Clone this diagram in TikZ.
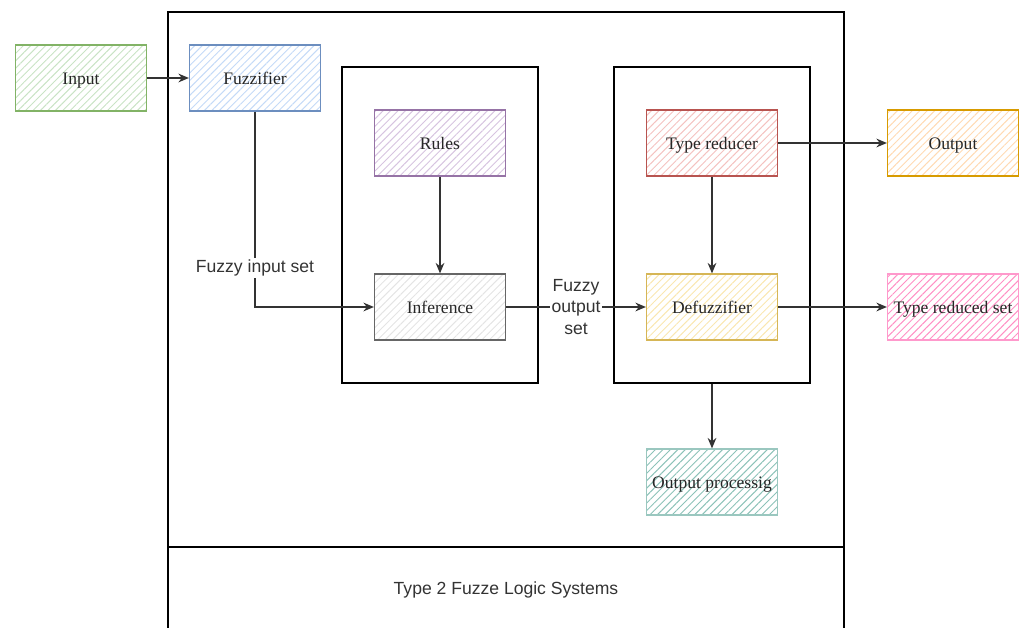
\documentclass[tikz,border=0pt]{standalone}
\usepackage{fontspec}
\setmainfont{Liberation Serif}
\setsansfont{Liberation Sans}
\usetikzlibrary{patterns.meta, arrows.meta}

\definecolor{ingreen}{HTML}{82B366}
\definecolor{ingreenf}{HTML}{C9E3C5}
\definecolor{fzblue}{HTML}{6C8EBF}
\definecolor{fzbluef}{HTML}{C4DAF7}
\definecolor{rlpurple}{HTML}{9673A6}
\definecolor{rlpurplef}{HTML}{D7C4E0}
\definecolor{infgray}{HTML}{666666}
\definecolor{infgrayf}{HTML}{E4E4E4}
\definecolor{trred}{HTML}{B85450}
\definecolor{trredf}{HTML}{F4C2C0}
\definecolor{dfyellow}{HTML}{D6B656}
\definecolor{dfyellowf}{HTML}{F9E7B0}
\definecolor{outorange}{HTML}{D79B00}
\definecolor{outorangef}{HTML}{FFDAB3}
\definecolor{setpink}{HTML}{FF99CC}
\definecolor{setpinkf}{HTML}{FF8FC4}
\definecolor{optteal}{HTML}{9AC7BF}
\definecolor{opttealf}{HTML}{8CC2B8}

\begin{document}
\begin{tikzpicture}[x=0.02cm, y=-0.02cm,
    block/.style 2 args={draw=#1, line width=0.7pt, font=\fontsize{10}{12}\selectfont,
        text=black!85, minimum width=2.62cm, minimum height=1.32cm, inner sep=0pt,
        text height=7pt, text depth=0pt,
        pattern={Lines[angle=45, distance=3pt, line width=0.55pt]}, pattern color=#2},
    group/.style={draw, line width=0.8pt, minimum width=3.92cm, minimum height=6.32cm},
    lbl/.style={fill=white, font=\sffamily\fontsize{10}{12}\selectfont, text=black!80,
        inner sep=1pt, align=center},
    flow/.style={-{Stealth[length=6pt, width=5pt, inset=2pt]}, line width=0.7pt, black!80}]
    \useasboundingbox (0,0) rectangle (1022,628);

    % system frame with its title bar
    \draw[line width=0.8pt] (168,640) -- (168,12) -- (844,12) -- (844,640);
    \draw[line width=0.9pt] (168,547) -- (844,547);
    \node[font=\sffamily\fontsize{10}{12}\selectfont, text=black!80] (title) at (506,590) {Type 2 Fuzze Logic Systems};

    % inference and output stages
    \node[group] (infstage) at (440,225) {};
    \node[group] (outstage) at (712,225) {};

    \node[block={ingreen}{ingreenf}] (input) at (81,78) {Input};
    \node[block={fzblue}{fzbluef}] (fuzz) at (255,78) {Fuzzifier};
    \node[block={rlpurple}{rlpurplef}] (rules) at (440,143) {Rules};
    \node[block={infgray}{infgrayf}] (infer) at (440,307) {Inference};
    \node[block={trred}{trredf}] (typered) at (712,143) {Type reducer};
    \node[block={dfyellow}{dfyellowf}] (defuzz) at (712,307) {Defuzzifier};
    \node[block={outorange}{outorangef}] (output) at (953,143) {Output};
    \node[block={setpink}{setpinkf}] (redset) at (953,307) {Type reduced set};
    \node[block={optteal}{opttealf}] (outproc) at (712,482) {Output processig};

    \draw[flow] (input) -- (fuzz);
    \draw[flow] (fuzz.south) |- node[lbl, pos=0.4] {Fuzzy input set} (infer.west);
    \draw[flow] (rules) -- (infer);
    \draw[flow] (infer) -- node[lbl] {Fuzzy\\output\\set} (defuzz);
    \draw[flow] (typered) -- (defuzz);
    \draw[flow] (typered) -- (output);
    \draw[flow] (defuzz) -- (redset);
    \draw[flow] (outstage.south) -- (outproc);
\end{tikzpicture}
\end{document}
